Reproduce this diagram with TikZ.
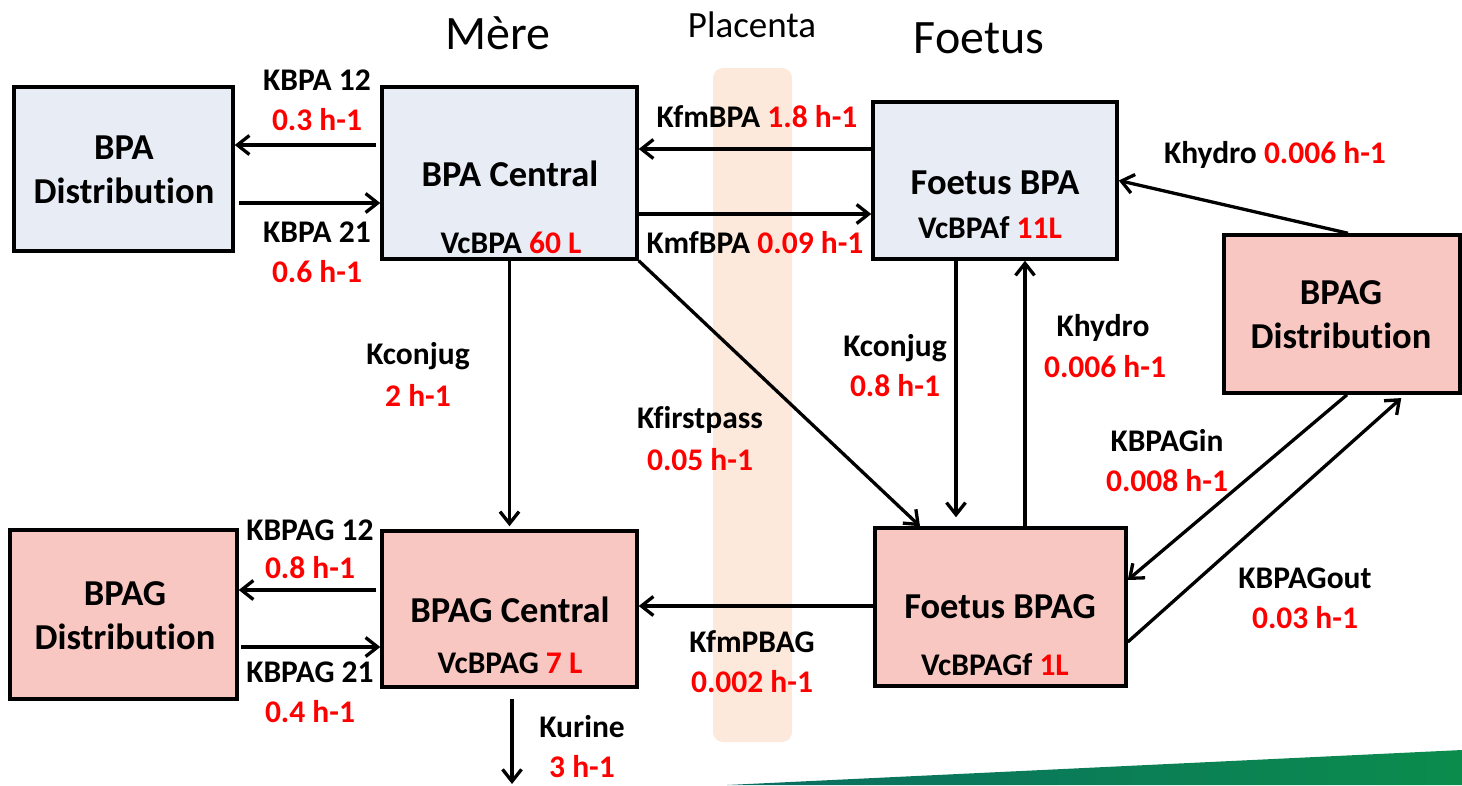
\documentclass[tikz,border=0pt]{standalone}
\usepackage{fontspec}
\setmainfont{Carlito}[Ligatures={NoCommon,NoContextual,NoRare}]
\usetikzlibrary{arrows.meta,calc}
\definecolor{bluebox}{HTML}{E7ECF5}
\definecolor{pinkbox}{HTML}{F9C7C1}
\definecolor{placentac}{HTML}{FCE9DC}
\definecolor{kred}{HTML}{FF0000}
\definecolor{greenA}{HTML}{0B8C4C}
\definecolor{greenB}{HTML}{0A6E62}
\newcommand\distword{Distribu\kern0pt tion}
\tikzset{
  box/.style={draw=black, line width=3.5pt, inner sep=0pt},
  bbox/.style={box, fill=bluebox},
  pbox/.style={box, fill=pinkbox},
  ttl/.style={font=\fontsize{36.5}{44}\selectfont\bfseries, align=center, inner sep=0pt},
  lbl/.style={font=\fontsize{31.5}{36}\selectfont\bfseries, inner sep=0pt},
  rv/.style={lbl, text=kred},
  head/.style={inner sep=0pt},
  arr/.style={line width=3.3pt, -{Straight Barb[length=12pt,width=19pt,line width=3.3pt]}},
}
\begin{document}
\begin{tikzpicture}[x=1pt,y=-1pt]
\useasboundingbox (0,0) rectangle (1462,785);
% placenta band and background stripe
\node[fill=placentac, rounded corners=10pt, minimum width=79pt, minimum height=674pt, inner sep=0pt] (plac) at (752.5,405) {};
\shade[left color=greenB, right color=greenA] (727,785) -- (1462,750) -- (1462,785) -- cycle;

% headings
\node[head, font=\fontsize{48}{56}\selectfont] (mere) at (498,33) {Mère};
\node[head, font=\fontsize{37}{44}\selectfont] (plact) at (752,25) {Placenta};
\node[head, font=\fontsize{48}{56}\selectfont] (foet) at (979,38) {Foetus};

% boxes
\node[bbox, minimum width=219pt, minimum height=164pt] (bpad) at (123.5,169) {};
\node[bbox, minimum width=255pt, minimum height=172pt] (bpac) at (509.5,173) {};
\node[bbox, minimum width=244pt, minimum height=157pt] (fbpa) at (995,180.5) {};
\node[pbox, minimum width=236pt, minimum height=158pt] (bpagdr) at (1342,314) {};
\node[pbox, minimum width=227pt, minimum height=169pt] (bpagdl) at (123.5,614.5) {};
\node[pbox, minimum width=255pt, minimum height=156pt] (bpagc) at (509.5,609) {};
\node[pbox, minimum width=251pt, minimum height=158pt] (fbpag) at (1000.5,607) {};

% box texts
\node[ttl] (t1) at (124,170) {BPA\\\distword};
\node[ttl] (t2) at (510,174) {BPA Central};
\node[lbl] (v2) at (511,243) {VcBPA \textcolor{kred}{60 L}};
\node[ttl] (t3) at (995,183) {Foetus BPA};
\node[lbl] (v3) at (990,228) {VcBPAf \textcolor{kred}{11L}};
\node[ttl] (t4) at (1341,315) {BPAG\\\distword};
\node[ttl] (t5) at (125,616) {BPAG\\\distword};
\node[ttl] (t6) at (510,610) {BPAG Central};
\node[lbl] (v6) at (510,663) {VcBPAG \textcolor{kred}{7 L}};
\node[ttl] (t7) at (1000,607) {Foetus BPAG};
\node[lbl] (v7) at (995,665) {VcBPAGf \textcolor{kred}{1L}};

% connectors
\draw[arr, shorten <=4pt] ([yshift=28pt]bpac.west) -- ([yshift=24pt]bpad.east);
\draw[arr, shorten <=4pt] ([yshift=-34pt]bpad.east) -- ([yshift=-30pt]bpac.west);
\draw[arr] ([yshift=31.5pt]fbpa.west) -- ([yshift=24pt]bpac.east);
\draw[arr] ([yshift=-41pt]bpac.east) -- ([yshift=-33.5pt]fbpa.west);
\draw[arr, shorten >=3pt] (bpac.south) -- (bpagc.north);
\draw[arr] (bpac.south east) -- ([xshift=-80.5pt]fbpag.north);
\draw[arr, shorten >=9pt] ([xshift=-39pt]fbpa.south) -- ([xshift=-44.5pt]fbpag.north);
\draw[arr] ([xshift=24.5pt]fbpag.north) -- ([xshift=30pt]fbpa.south);
\draw[arr] ([xshift=6pt]bpagdr.north) -- (fbpa.east);
\draw[arr] ([xshift=5pt]bpagdr.south) -- ([yshift=27pt]fbpag.east);
\draw[arr, shorten >=5pt] ([yshift=-35pt]fbpag.east) -- ([xshift=63pt]bpagdr.south);
\draw[arr, shorten <=4pt] ([yshift=19pt]bpagc.west) -- ([yshift=24.5pt]bpagdl.east);
\draw[arr, shorten <=2pt] ([yshift=-32.5pt]bpagdl.east) -- ([yshift=-38pt]bpagc.west);
\draw[arr] ([yshift=1pt]fbpag.west) -- ([yshift=3pt]bpagc.east);
\coordinate (urine) at (512,784);
\draw[arr, shorten <=10pt] ([xshift=2.5pt]bpagc.south) -- (urine);

% rate labels
\node[lbl] (k12) at (317,80) {KBPA 12};
\node[rv] (k12v) at (317,120) {0.3 h-1};
\node[lbl] (k21) at (317,232) {KBPA 21};
\node[rv] (k21v) at (317,272) {0.6 h-1};
\node[lbl] (kfm) at (757,117) {KfmBPA \textcolor{kred}{1.8 h-1}};
\node[lbl] (kmf) at (755,243) {KmfBPA \textcolor{kred}{0.09 h-1}};
\node[lbl] (khy) at (1275,155) {Khydro \textcolor{kred}{0.006 h-1}};
\node[lbl] (kcl) at (418,356) {Kconjug};
\node[rv] (kclv) at (418,395) {2 h-1};
\node[lbl] (kfp) at (700,420) {Kfirstpass};
\node[rv] (kfpv) at (700,460) {0.05 h-1};
\node[lbl] (kcr) at (895,348) {Kconjug};
\node[rv] (kcrv) at (895,386) {0.8 h-1};
\node[lbl] (khy2) at (1103,328) {Khydro};
\node[rv] (khy2v) at (1105,367) {0.006 h-1};
\node[lbl] (kin) at (1167,441) {KBPAGin};
\node[rv] (kinv) at (1167,481) {0.008 h-1};
\node[lbl] (kout) at (1305,578) {KBPAGout};
\node[rv] (koutv) at (1305,618) {0.03 h-1};
\node[lbl] (kg12) at (310,530) {KBPAG 12};
\node[rv] (kg12v) at (310,568) {0.8 h-1};
\node[lbl] (kg21) at (310,672) {KBPAG 21};
\node[rv] (kg21v) at (310,712) {0.4 h-1};
\node[lbl] (kfmg) at (752,642) {KfmPBAG};
\node[rv] (kfmgv) at (752,682) {0.002 h-1};
\node[lbl] (kur) at (582,727) {Kurine};
\node[rv] (kurv) at (582,767) {3 h-1};
\end{tikzpicture}
\end{document}
